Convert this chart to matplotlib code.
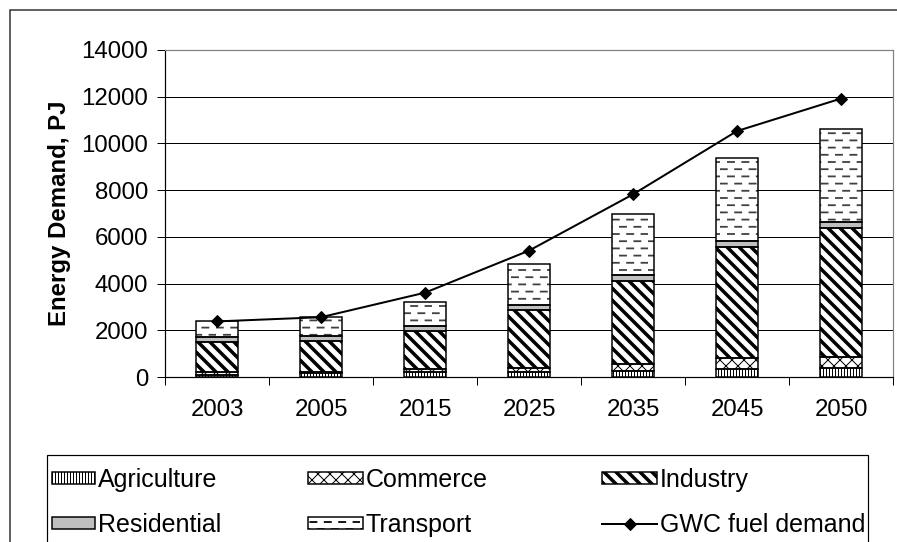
import warnings
import numpy as np
import matplotlib
matplotlib.use("Agg")
import matplotlib.pyplot as plt
from matplotlib import hatch as mhatch
from matplotlib.path import Path
from matplotlib.patches import Rectangle

warnings.filterwarnings("ignore")

years = ["2003", "2005", "2015", "2025", "2035", "2045", "2050"]
agriculture = [100, 150, 200, 230, 260, 330, 370]
commerce = [120, 80, 125, 170, 285, 470, 500]
industry = [1285, 1330, 1660, 2470, 3570, 4750, 5520]
residential = [215, 215, 215, 215, 270, 270, 260]
transport = [670, 790, 1000, 1755, 2600, 3540, 3950]
gwc_demand = [2380, 2560, 3610, 5410, 7820, 10530, 11920]


# staggered short dashes, used as the "_" hatch for transport
class DashHatch(mhatch.HatchPatternBase):
    def __init__(self, hatch, density):
        n = hatch.count("_")
        self.rows = 10 * n
        self.per_row = 5
        self.num_vertices = self.rows * self.per_row * 2

    def set_vertices_and_codes(self, vertices, codes):
        k = 0
        for r in range(self.rows):
            y = (r + 0.5) / self.rows
            off = 0.5 / self.per_row if r % 2 else 0.0
            for c in range(self.per_row):
                x0 = c / self.per_row + off + 0.01
                vertices[k] = (x0, y)
                vertices[k + 1] = (x0 + 0.085, y)
                codes[k] = Path.MOVETO
                codes[k + 1] = Path.LINETO
                k += 2


mhatch._hatch_types.append(DashHatch)

plt.rcParams["font.family"] = ["Liberation Sans", "DejaVu Sans"]

W, H = 897, 542
fig = plt.figure(figsize=(W / 72, H / 72), dpi=72)
ax = fig.add_axes([165 / W, (H - 377) / H, 728 / W, 327 / H])

x = np.arange(len(years))
# name, values, fill, hatch, hatch colour, hatch width
series = [
    ("Agriculture", agriculture, "white", "||||", "black", 1.0),
    ("Commerce", commerce, "white", "xx", "black", 1.0),
    ("Industry", industry, "white", "\\\\", "black", 3.5),
    ("Residential", residential, "#c0c0c0", None, "black", 1.0),
    ("Transport", transport, "white", "_", "#404040", 1.8),
]
hatch_width = {s[0]: s[5] for s in series}

handles = {}
bottom = np.zeros(len(years))
for name, vals, color, hatch, hcolor, hlw in series:
    with plt.rc_context({"hatch.linewidth": hlw}):
        # fill + hatch (hatch takes the edge colour), then black outline
        fill = ax.bar(x, vals, 0.41, bottom=bottom, color=color,
                      edgecolor=hcolor, linewidth=0, hatch=hatch, zorder=3)
        for p in fill:
            if hasattr(p, "set_hatch_linewidth"):
                p.set_hatch_linewidth(hlw)
    ax.bar(x, vals, 0.41, bottom=bottom, fill=False, edgecolor="black",
           linewidth=1.5, zorder=4)
    handles[name] = fill
    bottom += np.array(vals)

line, = ax.plot(x, gwc_demand, color="black", lw=2, marker="D",
                markersize=9, zorder=5, label="GWC fuel demand")

ax.set_xlim(-0.5, len(years) - 0.5)
ax.set_ylim(0, 14000)
ax.set_yticks(np.arange(0, 14001, 2000))
ax.yaxis.grid(True, color="black", lw=1)
ax.set_axisbelow(True)

ax.set_xticks(x)
ax.set_xticklabels(years)
ax.set_xticks(np.arange(-0.5, len(years)), minor=True)
ax.tick_params(axis="x", which="major", length=0, pad=22, labelsize=24)
ax.tick_params(axis="x", which="minor", length=8, width=1, direction="out")
ax.tick_params(axis="y", length=8, width=1, pad=9, labelsize=24)

for side in ("top", "right"):
    ax.spines[side].set_color("#808080")
    ax.spines[side].set_linewidth(1.2)
for side in ("left", "bottom"):
    ax.spines[side].set_color("black")
    ax.spines[side].set_linewidth(1.2)

ax.set_ylabel("Energy Demand, PJ", fontsize=24, fontweight="bold", labelpad=10)

# legend: three columns placed separately, one shared frame
columns = [
    (52, 1.72, ["Agriculture", "Residential"]),
    (308, 2.2, ["Commerce", "Transport"]),
    (602, 2.2, ["Industry", None]),
]
for left, hlen, names in columns:
    hs = [handles[n] if n else line for n in names]
    labels = [n if n else "GWC fuel demand" for n in names]
    lw_col = max(hatch_width.get(n, 1.0) for n in names if n)
    with plt.rc_context({"hatch.linewidth": lw_col}):
        lg = fig.legend(hs, labels, loc="upper left",
                        bbox_to_anchor=(left / W, (H - 468) / H),
                        fontsize=25, frameon=False, borderpad=0,
                        borderaxespad=0, labelspacing=0.84,
                        handlelength=hlen, handleheight=0.4,
                        handletextpad=0.1, numpoints=1)
    for ph, n in zip(lg.legend_handles, names):
        if n is None:
            continue
        ph.set_edgecolor("black")
        ph.set_linewidth(1.5)
        if hasattr(ph, "set_hatch_linewidth"):
            ph.set_hatch_linewidth(hatch_width[n])

fig.patches.append(Rectangle((47 / W, -0.1), (868 - 47) / W,
                             (H - 455) / H + 0.1, transform=fig.transFigure,
                             fill=False, edgecolor="black", lw=1.2))

# outer chart border
fig.patches.append(Rectangle((10 / W, -0.1), 1.2, (H - 10) / H + 0.1,
                             transform=fig.transFigure, fill=False,
                             edgecolor="#303030", lw=1.5))

fig.savefig("out.png", dpi=72)
